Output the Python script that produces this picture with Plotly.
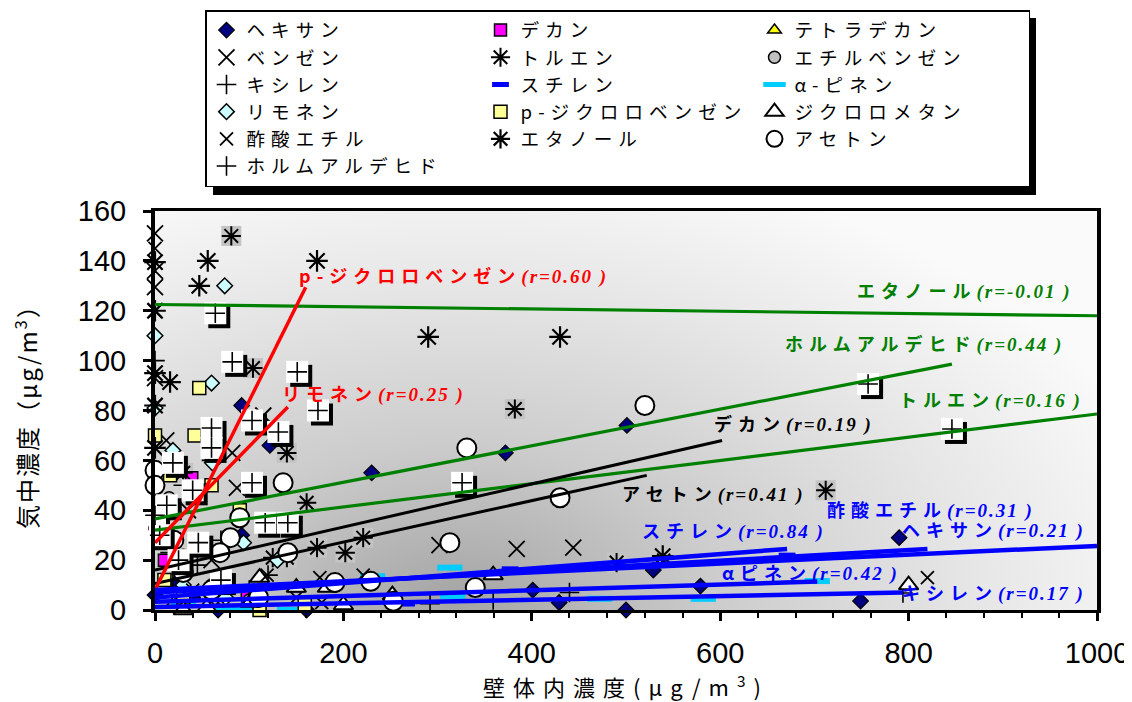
import base64
import plotly.graph_objects as go

# ---------------- data ----------------
hexane_x = [92, 122, 230, 372, 501, 92, 401, 429, 500, 579, 529, 749, 790, 67, 161, 40, 20, 0]
hexane_y = [82, 66, 55, 63, 74, 30, 8, 3, 0, 9.6, 16, 3.6, 29, 0, 0, 5, 10, 6]
decane_x = [39, 98, 10]
decane_y = [53, 7, 20]
tetradecane_x = [20, 60, 110]
tetradecane_y = [3, 1, 2]
benzene_x = [0, 0, 0, 0, 12, 82, 87, 115, 302, 384, 444, 60, 35, 150]
benzene_y = [151, 136, 129.5, 93, 68, 63, 49, 78, 26, 24.5, 25, 20, 40, 5]
toluene_x = [81, 104, 140, 161, 382, 712, 202, 221, 490, 172, 125, 140, 30]
toluene_y = [150, 97, 63, 43, 80.6, 48, 23, 29, 19, 25, 21, 21, 55]
ethylbenzene_x = [77, 30, 60, 100, 15]
ethylbenzene_y = [30, 22, 10, 4, 45]
xylene_x = [292, 359, 440, 794, 16, 19, 45, 70, 100, 5, 30, 60, 0, 120]
xylene_y = [2.5, 4, 7, 6.8, 23, 12, 18, 28, 8, 40, 50, 60, 100, 14]
styrene_x = [377, 267, 671, 30, 100, 150]
styrene_y = [16.5, 2.4, 22, 5, 3, 8]
apinene_x = [313, 472, 582, 703, 66, 90, 143, 231, 316, 30]
apinene_y = [17, 4.5, 4.5, 11.6, 0, 0, 0, 13.5, 5.6, 2]
limonene_x = [0, 74, 60, 0, 19, 61, 94, 130, 30, 75]
limonene_y = [110, 130, 91, 81, 64, 59, 27, 20, 10, 5]
pdcb_x = [0, 42, 47, 16, 111, 159, 60, 90, 10, 30]
pdcb_y = [70, 70, 89, 54, 0, 2, 50, 40, 12, 5]
dcm_x = [359, 252, 800, 111, 150, 183, 101, 30, 55, 200]
dcm_y = [14, 6, 10, 13, 9, 9, 3, 0, 1, 2]
ethylacetate_x = [820, 221, 175, 119, 177, 0, 40, 0, 540]
ethylacetate_y = [13, 14, 13, 14, 3, 145, 8, 120, 20]
ethanol_x = [0, 0, 0, 0, 56, 47, 172, 290, 430, 16, 539, 0]
ethanol_y = [139.5, 120, 82, 95, 140, 130, 140, 109.5, 109.5, 91.4, 21.6, 65]
acetone_x = [520, 331, 430, 136, 90, 80, 141, 69, 0, 0, 5, 313, 340, 253, 229, 191, 30, 60, 110, 20]
acetone_y = [82, 65, 45, 51, 37, 29, 23, 23, 56, 50, 36, 27, 9, 3.5, 11.5, 11, 15, 8, 5, 28]
formaldehyde_x = [64, 82, 151, 173, 103, 60, 60, 131, 19, 40, 103, 12.5, 117, 141, 46, 326, 757, 846, 0, 25, 70, 5]
formaldehyde_y = [119, 99.5, 95.5, 80, 76, 73, 65, 71.4, 59, 48, 51, 42, 35, 35, 27, 51, 90.6, 72.6, 38, 20, 12, 30]

# regression lines (end points) and labels
trend_names = ["エタノール", "ホルムアルデヒド", "トルエン", "デカン", "アセトン", "p-ジクロロベンゼン",
               "リモネン", "スチレン", "ヘキサン", "酢酸エチル", "α-ピネン", "キシレン"]
trend_x0 = [0, 0, 0, 0, 0, 0, 0, 0, 0, 0, 0, 0]
trend_x1 = [1000, 846, 1000, 602, 522, 160, 141, 671, 820, 1000, 703, 794]
trend_y0 = [122.5, 36.5, 32, 16, 10.6, 8, 27, 5, 7, 8, 3.3, 1.2]
trend_y1 = [118, 98.6, 78.6, 68, 54, 129.4, 81.4, 24.5, 24.5, 25.7, 11.4, 7]
trend_r = ["-0.01", "0.44", "0.16", "0.19", "0.41", "0.60", "0.25", "0.84", "0.21", "0.31", "0.42", "0.17"]
label_text = ["エタノール", "ホルムアルデヒド", "トルエン", "デカン", "アセトン", "p-ジクロロベンゼン",
              "リモネン", "スチレン", "ヘキサン", "酢酸エチル", "αピネン", "キシレン"]
label_x = [743, 667, 788, 591, 494, 151, 133, 515, 791, 711, 600, 791]
label_y = [128.3, 107, 84.6, 75, 46.9, 134.3, 87, 32, 32.5, 40.5, 15.2, 7.2]

GREEN, RED, BLUE, BLACK = "#008000", "#ff0000", "#0000ff", "#000000"
trend_colors = [GREEN, GREEN, GREEN, BLACK, BLACK, RED, RED, BLUE, BLUE, BLUE, BLUE, BLUE]
trend_widths = [3.2, 3.2, 3.2, 3, 3, 3.5, 3.5, 4.5, 4.5, 4.5, 4.5, 4.5]

X_RANGE = [0, 1000]
Y_RANGE = [0, 160]
# page geometry (the browser adds an 8px body margin, so the figure is 8px smaller)
PAGE_OFF = 8
PAGE_W, PAGE_H = 1132, 702
W, H = PAGE_W - PAGE_OFF, PAGE_H - PAGE_OFF
PLOT_L, PLOT_R, PLOT_T, PLOT_B = 155, 1097, 211, 610      # plot area in page pixels
M_L, M_T = PLOT_L - PAGE_OFF, PLOT_T - PAGE_OFF
M_R, M_B = PAGE_W - PLOT_R, PAGE_H - PLOT_B
PLOT_W = PLOT_R - PLOT_L
PLOT_H = PLOT_B - PLOT_T

JP = "Noto Sans CJK JP"
SANS = "Liberation Sans"

fig = go.Figure()

# gradient plot background (radial, dark near lower centre-left)
svg = (
    f"<svg xmlns='http://www.w3.org/2000/svg' width='{PLOT_W}' height='{PLOT_H}' "
    f"viewBox='0 0 {PLOT_W} {PLOT_H}' preserveAspectRatio='none'>"
    "<defs><radialGradient id='g' gradientUnits='userSpaceOnUse' cx='0' cy='0' r='1' "
    f"gradientTransform='translate({PLOT_W*0.32:.1f},{PLOT_H*0.98:.1f}) scale(740,450)'>"
    "<stop offset='0' stop-color='#a4a4a4'/>"
    "<stop offset='0.35' stop-color='#cccccc'/>"
    "<stop offset='0.7' stop-color='#e6e6e6'/>"
    "<stop offset='1' stop-color='#fafafa'/>"
    "</radialGradient></defs>"
    f"<rect x='0' y='0' width='{PLOT_W}' height='{PLOT_H}' fill='url(#g)'/></svg>"
)
bg_uri = "data:image/svg+xml;base64," + base64.b64encode(svg.encode()).decode()


def jp_span(t, spacing=6):
    return f"<span style='letter-spacing:{spacing}px'>{t}</span>"


def mk(name, xs, ys, symbol, size, color, lcolor=BLACK, lwidth=1.2, show=True):
    fig.add_trace(go.Scatter(
        x=xs, y=ys, mode="markers", name=jp_span(name),
        showlegend=show, cliponaxis=False, hoverinfo="skip",
        marker=dict(symbol=symbol, size=size, color=color,
                    line=dict(color=lcolor, width=lwidth))))


# grey boxes behind the toluene markers
fig.add_trace(go.Scatter(x=toluene_x, y=toluene_y, mode="markers", showlegend=False,
                         cliponaxis=False, hoverinfo="skip",
                         marker=dict(symbol="square", size=20, color="#c4c4c4", line=dict(width=0))))

mk("ヘキサン", hexane_x, hexane_y, "diamond", 12, "#000080", lwidth=1.2)
mk("デカン", decane_x, decane_y, "square", 12, "#ff00ff", lwidth=1.5)
mk("テトラデカン", tetradecane_x, tetradecane_y, "triangle-up", 12, "#ffff00", lwidth=1.5)
mk("ベンゼン", benzene_x, benzene_y, "x-thin-open", 16, BLACK, lcolor=BLACK, lwidth=1.8)
mk("トルエン", toluene_x, toluene_y, "asterisk-open", 16, BLACK, lcolor=BLACK, lwidth=2)
mk("エチルベンゼン", ethylbenzene_x, ethylbenzene_y, "circle", 12, "#c0c0c0", lwidth=1.5)
mk("キシレン", xylene_x, xylene_y, "cross-thin-open", 14, BLACK, lcolor=BLACK, lwidth=1.6)
mk("スチレン", styrene_x, styrene_y, "line-ew-open", 12, BLUE, lcolor=BLUE, lwidth=5)
mk("α-ピネン", apinene_x, apinene_y, "line-ew-open", 18, "#00ccff", lcolor="#00ccff", lwidth=6)
mk("リモネン", limonene_x, limonene_y, "diamond", 12, "#ccffff", lwidth=1.5)
mk("p-ジクロロベンゼン", pdcb_x, pdcb_y, "square", 13, "#ffff99", lwidth=1.5)
mk("ジクロロメタン", dcm_x, dcm_y, "triangle-up", 17, "#ffffff", lwidth=2)
mk("酢酸エチル", ethylacetate_x, ethylacetate_y, "x-thin-open", 13, BLACK, lcolor=BLACK, lwidth=1.8)
mk("エタノール", ethanol_x, ethanol_y, "asterisk-open", 18, BLACK, lcolor=BLACK, lwidth=2.2)
mk("アセトン", acetone_x, acetone_y, "circle", 19, "#ffffff", lwidth=2)

# formaldehyde: white label box with black drop shadow, then "+"
px_x = PLOT_W / (X_RANGE[1] - X_RANGE[0])
px_y = PLOT_H / (Y_RANGE[1] - Y_RANGE[0])
fig.add_trace(go.Scatter(x=[v + 4 / px_x for v in formaldehyde_x],
                         y=[v - 4 / px_y for v in formaldehyde_y],
                         mode="markers", showlegend=False, cliponaxis=False, hoverinfo="skip",
                         marker=dict(symbol="square", size=22, color=BLACK, line=dict(width=0))))
fig.add_trace(go.Scatter(x=formaldehyde_x, y=formaldehyde_y, mode="markers", showlegend=False,
                         cliponaxis=False, hoverinfo="skip",
                         marker=dict(symbol="square", size=22, color="#ffffff", line=dict(width=0))))
mk("ホルムアルデヒド", formaldehyde_x, formaldehyde_y, "cross-thin-open", 14, BLACK, lcolor=BLACK, lwidth=1.6)

# regression lines
for n, x0, x1, y0, y1, c, w in zip(trend_names, trend_x0, trend_x1, trend_y0, trend_y1,
                                   trend_colors, trend_widths):
    fig.add_trace(go.Scatter(x=[x0, x1], y=[y0, y1], mode="lines", showlegend=False,
                             hoverinfo="skip", line=dict(color=c, width=w)))

# line labels
for t, r, x, y, c in zip(label_text, trend_r, label_x, label_y, trend_colors):
    txt = (f"<span style='letter-spacing:6px'><b>{t}</b></span>"
           f"<span style='font-family:Liberation Serif;font-size:19px;letter-spacing:2px'>"
           f"<b><i>(r={r} )</i></b></span>")
    fig.add_annotation(x=x, y=y, xref="x", yref="y", text=txt, showarrow=False,
                       xanchor="left", yanchor="middle",
                       font=dict(family=JP, size=18, color=c))

# legend box (page pixels) and its drop shadow
lx0, lx1, ly0, ly1 = 205, 1028, 10, 187
fig.add_shape(type="rect", xref="paper", yref="paper", layer="below",
              x0=(lx0 + 8 - PLOT_L) / PLOT_W, x1=(lx1 + 8 - PLOT_L) / PLOT_W,
              y0=(PLOT_B - (ly1 + 8)) / PLOT_H, y1=(PLOT_B - (ly0 + 8)) / PLOT_H,
              fillcolor=BLACK, line=dict(width=0))

fig.add_layout_image(source=bg_uri, xref="paper", yref="paper", x=0, y=1, sizex=1, sizey=1,
                     xanchor="left", yanchor="top", sizing="stretch", layer="below")

fig.update_layout(
    width=W, height=H,
    margin=dict(l=M_L, r=M_R, t=M_T, b=M_B, autoexpand=False),
    paper_bgcolor="#ffffff", plot_bgcolor="#ffffff",
    showlegend=True,
    legend=dict(orientation="h", x=(lx0 - PLOT_L) / PLOT_W, xanchor="left",
                y=(PLOT_B - ly0) / PLOT_H, yanchor="top",
                bgcolor="#ffffff", bordercolor=BLACK, borderwidth=1.5,
                entrywidth=229, entrywidthmode="pixels", traceorder="normal",
                font=dict(family=JP, size=18.6, color=BLACK)),
    xaxis=dict(range=X_RANGE, dtick=200, tick0=0, showgrid=False, zeroline=False,
               showline=True, linecolor=BLACK, linewidth=3, mirror=True,
               ticks="outside", ticklen=8, tickwidth=3, tickcolor=BLACK,
               minor=dict(dtick=40, ticks="outside", ticklen=5, tickwidth=2, tickcolor=BLACK),
               ticklabelstandoff=7,
               tickfont=dict(family=SANS, size=29, color=BLACK),
               title=dict(text="<span style='letter-spacing:8px'>壁体内濃度(μg/m<sup>3</sup>)</span>",
                          standoff=0, font=dict(family=JP, size=22, color=BLACK))),
    yaxis=dict(range=Y_RANGE, dtick=20, tick0=0, showgrid=False, zeroline=False,
               showline=True, linecolor=BLACK, linewidth=4, mirror=True,
               ticks="outside", ticklen=8, tickwidth=3, tickcolor=BLACK,
               ticklabelstandoff=11,
               tickfont=dict(family=SANS, size=29, color=BLACK),
               title=dict(text="<span style='letter-spacing:2px'>気中濃度（μg/m<sup>3</sup>）</span>",
                          standoff=40, font=dict(family=JP, size=24, color=BLACK))),
)

fig.write_html("out.html")
